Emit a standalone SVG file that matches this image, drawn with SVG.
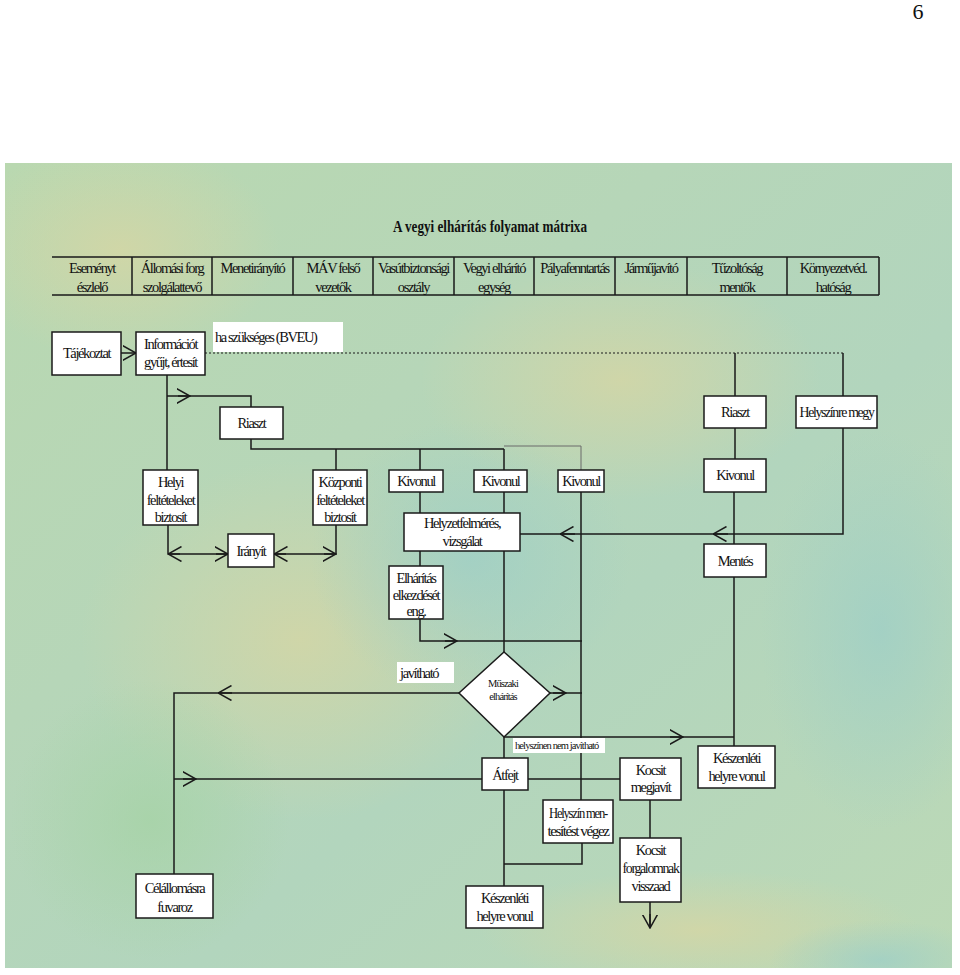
<svg xmlns="http://www.w3.org/2000/svg" width="960" height="975" viewBox="0 0 960 975">
<defs>
<clipPath id="bgclip"><rect x="5" y="163" width="947" height="805"/></clipPath>
<linearGradient id="bg" x1="0" y1="0" x2="1" y2="1">
<stop offset="0" stop-color="#b9d8b0"/>
<stop offset="0.35" stop-color="#b6d6b8"/>
<stop offset="0.6" stop-color="#b2d5bd"/>
<stop offset="1" stop-color="#bcd9b6"/>
</linearGradient>
<radialGradient id="yel" cx="0.5" cy="0.5" r="0.5">
<stop offset="0" stop-color="#d6d6a4" stop-opacity="0.8"/>
<stop offset="1" stop-color="#d6d6a4" stop-opacity="0"/>
</radialGradient>
<radialGradient id="blu" cx="0.5" cy="0.5" r="0.5">
<stop offset="0" stop-color="#9fcfc6" stop-opacity="0.8"/>
<stop offset="1" stop-color="#9fcfc6" stop-opacity="0"/>
</radialGradient>
<radialGradient id="grn" cx="0.5" cy="0.5" r="0.5">
<stop offset="0" stop-color="#a6d3a6" stop-opacity="0.8"/>
<stop offset="1" stop-color="#a6d3a6" stop-opacity="0"/>
</radialGradient>
<marker id="ch" markerUnits="userSpaceOnUse" viewBox="0 0 14 16" refX="13.5" refY="8" markerWidth="14" markerHeight="16" orient="auto">
<path d="M0,0.5 L13.5,8 L0,15.5" fill="none" stroke="#1a1a1a" stroke-width="1.5"/>
</marker>
<style>
.box{fill:#fff;stroke:#1a1a1a;stroke-width:1.5}
.lbl{fill:#fff;stroke:none}
.ln{stroke:#1a1a1a;stroke-width:1.5;fill:none}
.thin{stroke:#6a6a6a;stroke-width:1;fill:none}
.dot{stroke:#1a1a1a;stroke-width:1;fill:none;stroke-dasharray:2,2}
.t{font-family:"Liberation Serif","Times New Roman",serif;font-size:14.5px;letter-spacing:-1.4px;fill:#111;text-anchor:middle}
.s{font-family:"Liberation Serif","Times New Roman",serif;font-size:10.5px;letter-spacing:-0.9px;fill:#111}
.title{font-family:"Liberation Serif","Times New Roman",serif;font-size:16px;font-weight:bold;fill:#111;text-anchor:middle}
</style>
</defs>
<text x="918" y="19" style="font-family:'Liberation Serif',serif;font-size:22px;fill:#111" text-anchor="middle">6</text>
<g id="background" clip-path="url(#bgclip)">
<rect x="5" y="163" width="947" height="805" fill="url(#bg)"/>
<ellipse cx="300" cy="640" rx="220" ry="180" fill="url(#yel)"/>
<ellipse cx="120" cy="250" rx="160" ry="110" fill="url(#yel)"/>
<ellipse cx="470" cy="560" rx="160" ry="140" fill="url(#blu)"/>
<ellipse cx="880" cy="630" rx="120" ry="200" fill="url(#blu)"/>
<ellipse cx="620" cy="380" rx="200" ry="120" fill="url(#yel)"/>
<ellipse cx="700" cy="930" rx="220" ry="60" fill="url(#yel)"/>
<ellipse cx="880" cy="960" rx="110" ry="40" fill="url(#blu)"/>
<ellipse cx="150" cy="820" rx="140" ry="140" fill="url(#grn)"/>
</g>
<text class="title" x="490" y="232" textLength="194" lengthAdjust="spacingAndGlyphs">A vegyi elhárítás folyamat mátrixa</text>
<g id="header">
<path class="ln" d="M52,257 H879 M52,295 H879 M132,257 V295 M212,257 V295 M293,257 V295 M373,257 V295 M454,257 V295 M534,257 V295 M615,257 V295 M687,257 V295 M787,257 V295 M879,257 V295"/>
<text class="t" x="92" y="273">Eseményt</text><text class="t" x="92" y="292">észlelő</text>
<text class="t" x="172" y="273">Állomási forg</text><text class="t" x="172" y="292">szolgálattevő</text>
<text class="t" x="252.5" y="273">Menetirányító</text>
<text class="t" x="333" y="273">MÁV felső</text><text class="t" x="333" y="292">vezetők</text>
<text class="t" x="413.5" y="273">Vasútbiztonsági</text><text class="t" x="413.5" y="292">osztály</text>
<text class="t" x="494" y="273">Vegyi elhárító</text><text class="t" x="494" y="292">egység</text>
<text class="t" x="574.5" y="273">Pályafenntartás</text>
<text class="t" x="651" y="273">Járműjavító</text>
<text class="t" x="737" y="273">Tűzoltóság</text><text class="t" x="737" y="292">mentők</text>
<text class="t" x="833" y="273">Környezetvéd.</text><text class="t" x="833" y="292">hatóság</text>
</g>
<g id="connectors">
<path class="ln" d="M121,353 H136" marker-end="url(#ch)"/>
<path class="dot" d="M205,353 H843"/>
<path class="ln" d="M735,353 V396 M843,353 V396"/>
<path class="ln" d="M167,375 V470"/>
<path class="ln" d="M167,396 H251 V407"/>
<path class="ln" d="M178,396 H190" marker-end="url(#ch)"/>
<path class="ln" d="M251,439 V449 H504 M336,449 V470 M420,449 V470 M504,449 V470"/>
<path class="thin" d="M504,446 H581 V470"/>
<path class="ln" d="M735,428 V459"/>
<path class="ln" d="M843,428 V534 H520"/>
<path class="ln" d="M575,534 H560" marker-end="url(#ch)"/>
<path class="ln" d="M728,534 H713" marker-end="url(#ch)"/>
<path class="ln" d="M734,492 V544 M734,577 V746"/>
<path class="ln" d="M420,492 V513 M420,551 V566 M420,619 V641 H582"/>
<path class="ln" d="M445,641 H457" marker-end="url(#ch)"/>
<path class="ln" d="M504,492 V513 M504,551 V652"/>
<path class="ln" d="M581,492 V800"/>
<path class="ln" d="M168,525 V554 H228"/>
<path class="ln" d="M180,554 H168" marker-end="url(#ch)"/>
<path class="ln" d="M216,554 H228" marker-end="url(#ch)"/>
<path class="ln" d="M274,554 H336 V525"/>
<path class="ln" d="M286,554 H274" marker-end="url(#ch)"/>
<path class="ln" d="M324,554 H336" marker-end="url(#ch)"/>
<path class="ln" d="M459,693 H174 V874"/>
<path class="ln" d="M232,693 H218" marker-end="url(#ch)"/>
<path class="ln" d="M550,693 H582"/>
<path class="ln" d="M553,693 H566" marker-end="url(#ch)"/>
<path class="ln" d="M504,737 V758 M504,737 H734"/>
<path class="ln" d="M670,737 H683" marker-end="url(#ch)"/>
<path class="ln" d="M174,779 H482"/>
<path class="ln" d="M183,779 H196" marker-end="url(#ch)"/>
<path class="ln" d="M528,779 H620"/>
<path class="ln" d="M504,790 V886 M582,843 V864 H504"/>
<path class="ln" d="M650,800 V838 M650,902 V928"/>
<path class="ln" d="M650,914 V928" marker-end="url(#ch)"/>
</g>
<g id="n-tajekoztat"><rect class="box" x="52" y="332" width="69" height="43"/><text class="t" x="86.5" y="358">Tájékoztat</text></g>
<g id="n-informaciot"><rect class="box" x="136" y="332" width="69" height="43"/><text class="t" x="170.5" y="349">Információt</text><text class="t" x="170.5" y="367">gyűjt, értesít</text></g>
<g id="l-bveu"><rect class="lbl" x="213" y="322" width="130" height="30"/><text class="t" x="215" y="342" style="text-anchor:start">ha szükséges (BVEU)</text></g>
<g id="n-riaszt1"><rect class="box" x="220" y="407" width="63" height="32"/><text class="t" x="251.5" y="428">Riaszt</text></g>
<g id="n-riaszt2"><rect class="box" x="704" y="396" width="62" height="32"/><text class="t" x="735" y="417">Riaszt</text></g>
<g id="n-helyszinre"><rect class="box" x="796" y="396" width="81" height="32"/><text class="t" x="836.5" y="417" textLength="74" lengthAdjust="spacingAndGlyphs">Helyszínre megy</text></g>
<g id="n-helyi"><rect class="box" x="143" y="470" width="55" height="55"/><text class="t" x="170.5" y="487">Helyi</text><text class="t" x="170.5" y="505">feltételeket</text><text class="t" x="170.5" y="522">biztosít</text></g>
<g id="n-kozponti"><rect class="box" x="313" y="470" width="54" height="55"/><text class="t" x="340" y="487">Központi</text><text class="t" x="340" y="505">feltételeket</text><text class="t" x="340" y="522">biztosít</text></g>
<g id="n-iranyit"><rect class="box" x="228" y="534" width="46" height="33"/><text class="t" x="251" y="556">Irányít</text></g>
<g id="n-kivonul1"><rect class="box" x="389" y="470" width="54" height="22"/><text class="t" x="416" y="486">Kivonul</text></g>
<g id="n-kivonul2"><rect class="box" x="474" y="470" width="53" height="22"/><text class="t" x="500.5" y="486">Kivonul</text></g>
<g id="n-kivonul3"><rect class="box" x="558" y="470" width="46" height="22"/><text class="t" x="581" y="486">Kivonul</text></g>
<g id="n-kivonul4"><rect class="box" x="704" y="459" width="62" height="33"/><text class="t" x="735" y="480">Kivonul</text></g>
<g id="n-helyzet"><rect class="box" x="404" y="513" width="116" height="38"/><text class="t" x="462" y="528">Helyzetfelmérés,</text><text class="t" x="462" y="546">vizsgálat</text></g>
<g id="n-mentes"><rect class="box" x="704" y="544" width="62" height="33"/><text class="t" x="735" y="566">Mentés</text></g>
<g id="n-elharitas"><rect class="box" x="389" y="566" width="54" height="53"/><text class="t" x="416" y="583">Elhárítás</text><text class="t" x="416" y="600">elkezdését</text><text class="t" x="416" y="616">eng.</text></g>
<g id="l-javithato"><rect class="lbl" x="397" y="662" width="57" height="21"/><text class="t" x="400" y="678" style="text-anchor:start">javítható</text></g>
<g id="n-muszaki"><path class="box" d="M504,652 L550,693 L504,737 L459,693 Z"/><rect class="lbl" x="488" y="677" width="30" height="25"/><text class="s" x="503" y="687" text-anchor="middle">Műszaki</text><text class="s" x="503" y="700" text-anchor="middle">elhárítás</text></g>
<g id="l-nemjavithato"><rect class="lbl" x="513" y="738" width="92" height="15"/><text class="s" x="515" y="749">helyszínen nem javítható</text></g>
<g id="n-atfejt"><rect class="box" x="482" y="758" width="46" height="32"/><text class="t" x="505" y="780">Átfejt</text></g>
<g id="n-kocsit-megjavit"><rect class="box" x="620" y="758" width="61" height="42"/><text class="t" x="650.5" y="775">Kocsit</text><text class="t" x="650.5" y="792">megjavít</text></g>
<g id="n-keszenleti1"><rect class="box" x="698" y="746" width="77" height="42"/><text class="t" x="736.5" y="763">Készenléti</text><text class="t" x="736.5" y="781">helyre vonul</text></g>
<g id="n-helyszin-mentesites"><rect class="box" x="543" y="800" width="70" height="43"/><text class="t" x="578" y="818" textLength="58" lengthAdjust="spacingAndGlyphs">Helyszín men-</text><text class="t" x="578" y="836" textLength="61" lengthAdjust="spacingAndGlyphs">tesítést végez</text></g>
<g id="n-kocsit-forgalom"><rect class="box" x="620" y="838" width="61" height="64"/><text class="t" x="650.5" y="855">Kocsit</text><text class="t" x="650.5" y="873" textLength="56" lengthAdjust="spacingAndGlyphs">forgalomnak</text><text class="t" x="650.5" y="891">visszaad</text></g>
<g id="n-keszenleti2"><rect class="box" x="466" y="886" width="77" height="42"/><text class="t" x="504.5" y="903">Készenléti</text><text class="t" x="504.5" y="921">helyre vonul</text></g>
<g id="n-celallomas"><rect class="box" x="136" y="874" width="77" height="44"/><text class="t" x="174.5" y="893">Célállomásra</text><text class="t" x="174.5" y="912">fuvaroz</text></g>
</svg>
